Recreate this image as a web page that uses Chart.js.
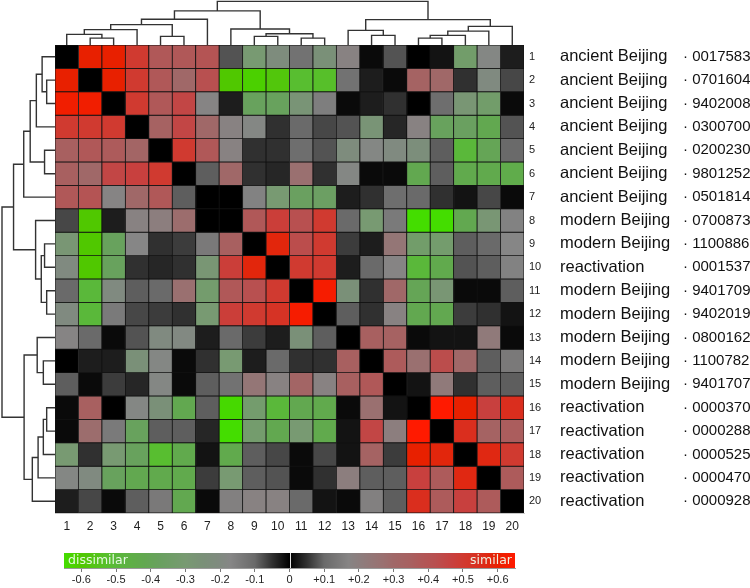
<!DOCTYPE html>
<html><head><meta charset="utf-8">
<script src="https://cdn.jsdelivr.net/npm/chart.js@4.4.1/dist/chart.umd.min.js"></script>
<style>
html,body{margin:0;padding:0;background:#fff;}
#wrap{position:relative;width:750px;height:588px;overflow:hidden;background:#fff;}
canvas{position:absolute;display:block;}
#cHeat{left:0;top:0;}
#cTop{left:55px;top:0;}
#cLeft{left:0;top:45px;}
#cBar{left:0;top:545px;}
</style></head><body>
<div id="wrap">
<canvas id="cHeat" width="750" height="545"></canvas>
<canvas id="cTop" width="469" height="45"></canvas>
<canvas id="cLeft" width="55" height="468"></canvas>
<canvas id="cBar" width="750" height="43"></canvas>
</div>
<script>
// ---------- data ----------
const colLabels = ['1','2','3','4','5','6','7','8','9','10','11','12','13','14','15','16','17','18','19','20'];
const rowNumbers = ['1','2','3','4','5','6','7','8','9','10','11','12','13','14','15','16','17','18','19','20'];
const groupNames = ['ancient Beijing','ancient Beijing','ancient Beijing','ancient Beijing','ancient Beijing','ancient Beijing','ancient Beijing',
  'modern Beijing','modern Beijing','reactivation','modern Beijing','modern Beijing','modern Beijing','modern Beijing','modern Beijing',
  'reactivation','reactivation','reactivation','reactivation','reactivation'];
const sampleIds = ['0017583','0701604','9402008','0300700','0200230','9801252','0501814','0700873','1100886','0001537',
  '9401709','9402019','0800162','1100782','9401707','0000370','0000288','0000525','0000470','0000928'];

const row01 = [0, 0.6, 0.6, 0.5, 0.38, 0.38, 0.4, 0.08, -0.3, -0.22, -0.12, -0.25, 0.18, 0.01, -0.08, 0, 0.02, -0.33, -0.18, 0.03];
const row02 = [0.6, 0, 0.6, 0.5, 0.38, 0.3, 0.42, -0.6, -0.62, -0.58, -0.52, -0.53, -0.12, 0.03, 0.01, 0.33, 0.3, 0.05, -0.2, 0.07];
const row03 = [0.62, 0.62, 0, 0.5, 0.38, 0.45, 0.17, 0.03, -0.38, -0.38, -0.27, -0.15, 0.01, 0.03, 0.05, 0, 0.11, -0.28, -0.33, 0.01];
const row04 = [0.5, 0.5, 0.5, 0, 0.34, 0.45, 0.3, 0.18, -0.18, 0.05, -0.1, 0.07, 0.08, -0.27, 0.04, 0.18, -0.38, -0.37, -0.42, 0.08];
const row05 = [0.35, 0.38, 0.37, 0.32, 0, 0.5, 0.38, 0.18, 0.05, 0.05, -0.11, -0.08, -0.22, -0.18, -0.2, -0.23, -0.09, -0.5, -0.4, -0.1];
const row06 = [0.35, 0.3, 0.45, 0.47, 0.5, 0, 0.09, 0.3, 0.05, 0.04, 0.27, 0.05, -0.18, 0.01, 0.01, -0.42, -0.09, -0.43, -0.43, -0.44];
const row07 = [0.38, 0.4, 0.17, 0.3, 0.38, 0.09, 0, 0, -0.16, -0.3, -0.37, -0.36, 0.03, 0.05, -0.11, 0.1, 0.05, 0.02, 0.07, 0.01];
const row08 = [0.07, -0.6, 0.03, 0.18, 0.2, 0.28, 0, 0, 0.38, 0.48, 0.42, 0.5, -0.1, -0.3, -0.14, -0.65, -0.65, -0.42, -0.28, -0.16];
const row09 = [-0.28, -0.6, -0.38, -0.17, 0.05, 0.06, 0.14, 0.35, 0, 0.58, 0.43, 0.5, 0.06, 0.03, 0.24, -0.33, -0.32, -0.09, -0.1, -0.17];
const row10 = [-0.2, -0.6, -0.38, 0.05, 0.04, 0.05, -0.28, 0.48, 0.58, 0, 0.5, 0.5, 0.03, -0.1, 0.17, -0.5, -0.43, -0.08, -0.09, -0.16];
const row11 = [-0.1, -0.5, -0.2, -0.09, -0.1, 0.27, -0.32, 0.38, 0.42, 0.5, 0, 0.63, -0.25, 0.05, 0.3, -0.4, -0.28, 0.01, 0.01, -0.09];
const row12 = [-0.2, -0.5, -0.14, 0.07, 0.06, 0.05, -0.3, 0.48, 0.5, 0.53, 0.63, 0, -0.09, 0.05, 0.18, -0.42, -0.42, 0.06, 0.05, 0.02];
const row13 = [0.17, 0.1, 0.01, 0.08, -0.2, -0.19, 0.03, -0.1, 0.06, 0.03, -0.25, -0.09, 0, 0.35, 0.34, 0.01, 0.02, 0.02, 0.22, 0.01];
const row14 = [0, 0.03, 0.03, -0.25, -0.18, 0.01, 0.05, -0.3, 0.03, -0.1, 0.05, 0.05, 0.35, 0, 0.37, 0.27, 0.43, 0.3, 0.09, 0.14];
const row15 = [0.09, 0.01, 0.06, 0.04, -0.18, 0.01, -0.09, -0.12, 0.24, 0.18, 0.32, 0.18, 0.35, 0.38, 0, 0.02, 0.22, 0.05, 0.09, 0.09];
const row16 = [0.01, 0.35, 0, -0.18, -0.25, -0.42, -0.09, -0.64, -0.32, -0.5, -0.42, -0.43, 0.01, 0.27, 0.02, 0, 0.65, 0.6, 0.47, 0.55];
const row17 = [0.01, 0.28, -0.14, -0.38, -0.09, -0.09, 0.04, -0.65, -0.32, -0.42, -0.3, -0.43, 0.02, 0.45, 0.2, 0.65, 0, 0.55, 0.33, 0.36];
const row18 = [-0.3, 0.05, -0.3, -0.38, -0.52, -0.43, 0.02, -0.43, -0.09, 0.07, 0.01, 0.07, 0.02, 0.33, 0.06, 0.6, 0.58, 0, 0.57, 0.5];
const row19 = [-0.18, -0.2, -0.38, -0.42, -0.43, -0.43, 0.06, -0.3, -0.09, 0.08, 0.01, 0.05, 0.2, 0.09, 0.09, 0.47, 0.37, 0.57, 0, 0.37];
const row20 = [0.03, 0.07, 0.01, 0.09, 0.14, -0.42, 0.01, 0.16, 0.18, 0.18, 0.1, 0.02, 0.01, 0.16, 0.09, 0.55, 0.37, 0.47, 0.37, 0];
const similarity = [row01,row02,row03,row04,row05,row06,row07,row08,row09,row10,row11,row12,row13,row14,row15,row16,row17,row18,row19,row20];

// dendrogram merges: [childA, childB, height]; leaves 0..19, merged clusters 20+
const treeMerges = [
  [1, 2, 0.157], [0, 20, 0.243], [21, 3, 0.352], [4, 5, 0.197], [22, 23, 0.468], [24, 6, 0.590],
  [8, 9, 0.197], [10, 11, 0.157], [26, 27, 0.259], [7, 28, 0.366], [25, 29, 0.782],
  [13, 14, 0.22], [12, 31, 0.336], [15, 16, 0.157], [33, 17, 0.22], [34, 18, 0.319], [35, 19, 0.428],
  [32, 36, 0.583], [30, 37, 1.0]
];

const colorbarTicks = [-0.6,-0.5,-0.4,-0.3,-0.2,-0.1,0,0.1,0.2,0.3,0.4,0.5,0.6];
const colorbarTickLabels = ['-0.6','-0.5','-0.4','-0.3','-0.2','-0.1','0','+0.1','+0.2','+0.3','+0.4','+0.5','+0.6'];

// ---------- style ----------
const FONT = '"Liberation Sans", Arial, Helvetica, sans-serif';
Chart.defaults.font.family = FONT;
const cmapStops = [
  [-0.65,[68,221,0]],[-0.6,[80,200,0]],[-0.52,[88,190,48]],[-0.5,[90,184,58]],[-0.42,[98,168,80]],
  [-0.37,[106,160,96]],[-0.3,[120,154,114]],[-0.25,[122,144,120]],[-0.2,[128,138,128]],[-0.17,[134,134,134]],
  [-0.1,[106,106,106]],[-0.05,[48,48,48]],[0,[0,0,0]],[0.05,[48,48,48]],[0.1,[106,106,106]],[0.17,[134,132,132]],
  [0.22,[144,122,122]],[0.27,[154,112,112]],[0.3,[160,104,104]],[0.35,[168,96,96]],[0.38,[176,88,88]],
  [0.42,[184,80,80]],[0.47,[200,64,62]],[0.5,[208,58,48]],[0.55,[218,46,30]],[0.6,[232,32,0]],[0.65,[255,26,0]]
];
function colorFor(v){
  if (v <= cmapStops[0][0]) return 'rgb('+cmapStops[0][1].join(',')+')';
  for (let i=1;i<cmapStops.length;i++){
    const [v1,c1] = cmapStops[i];
    if (v <= v1){
      const [v0,c0] = cmapStops[i-1];
      const t = (v - v0)/(v1 - v0);
      return 'rgb('+c0.map((c,k)=>Math.round(c + (c1[k]-c)*t)).join(',')+')';
    }
  }
  return 'rgb('+cmapStops[cmapStops.length-1][1].join(',')+')';
}

const common = {responsive:false, animation:false, events:[], plugins:{legend:{display:false}, tooltip:{enabled:false}}};

// ---------- heatmap ----------
const heatDatasets = similarity.map((row, r) => ({
  data: row.map(() => [r + 0.5, r + 1.5]),
  backgroundColor: row.map(colorFor),
  borderColor: '#121212',
  borderWidth: 0.8,
  borderSkipped: false,
  categoryPercentage: 1, barPercentage: 1, grouped: false,
  xAxisID: 'x', yAxisID: 'y'
}));
const rightAxis = (labels, weight, size, width, pad, color) => ({
  type:'category', labels: labels, position:'right', weight: weight, offset:true,
  grid:{display:false, drawTicks:false}, border:{display:false},
  ticks:{font:{size:size, family:FONT}, color:color, padding:pad, autoSkip:false},
  afterFit(s){ s.width = width; }
});
new Chart(document.getElementById('cHeat'), {
  type:'bar',
  data:{labels: colLabels, datasets: heatDatasets},
  options:Object.assign({}, common, {
    layout:{padding:{left:55, top:45, right:0, bottom:0}},
    scales:{
      x:{type:'category', position:'bottom', offset:true, grid:{display:false, drawTicks:false},
         border:{display:true, color:'#c8c8c8'},
         ticks:{font:{size:12}, color:'#222', padding:6, maxRotation:0, autoSkip:false},
         afterFit(s){ s.height = 32; }},
      y:{type:'linear', display:false, min:0.5, max:20.5, reverse:true},
      yNum: rightAxis(rowNumbers, 0, 11, 31, 5, '#222'),
      yName: rightAxis(groupNames, 1, 16.5, 125, 5, '#111'),
      yId: rightAxis(sampleIds.map(s => '\u00b7 ' + s), 2, 15, 70, 3, '#111')
    }
  })
});

// ---------- dendrograms ----------
function dendroSegments(merges, n){
  const pos = [], ht = [];
  for (let i=0;i<n;i++){ pos[i] = i + 1; ht[i] = 0; }
  const segs = [];
  merges.forEach(([a,b,h], k) => {
    segs.push([[pos[a],ht[a]],[pos[a],h],[pos[b],h],[pos[b],ht[b]]]);
    pos[n+k] = (pos[a]+pos[b])/2; ht[n+k] = h;
  });
  return segs;
}
const segs = dendroSegments(treeMerges, 20);
const lineStyle = {showLine:true, pointRadius:0, borderColor:'#333', borderWidth:1.4, tension:0, clip:false, fill:false};
new Chart(document.getElementById('cTop'), {
  type:'scatter',
  data:{datasets: segs.map(s => Object.assign({data: s.map(([p,h]) => ({x:p, y:h}))}, lineStyle))},
  options:Object.assign({}, common, {
    layout:{padding:0},
    scales:{x:{type:'linear', display:false, min:0.5, max:20.5}, y:{type:'linear', display:false, min:0, max:45/43.6}}
  })
});
new Chart(document.getElementById('cLeft'), {
  type:'scatter',
  data:{datasets: segs.map(s => Object.assign({data: s.map(([p,h]) => ({x:h, y:p}))}, lineStyle))},
  options:Object.assign({}, common, {
    layout:{padding:0},
    scales:{x:{type:'linear', display:false, min:0, max:55/53, reverse:true}, y:{type:'linear', display:false, min:0.5, max:20.5, reverse:true}}
  })
});

// ---------- colour bar ----------
const barText = {
  id:'barText',
  afterDatasetsDraw(chart){
    const {ctx, chartArea:a, scales:{x}} = chart;
    ctx.save();
    const x0 = Math.round(x.getPixelForValue(0)) + 0.5;
    ctx.strokeStyle = 'rgba(255,255,255,0.9)'; ctx.lineWidth = 1;
    ctx.beginPath(); ctx.moveTo(x0, a.top); ctx.lineTo(x0, a.bottom); ctx.stroke();
    ctx.font = '12.5px "DejaVu Sans", sans-serif';
    ctx.fillStyle = 'rgba(240,255,240,0.92)';
    ctx.textBaseline = 'middle';
    const ym = (a.top + a.bottom)/2;
    ctx.textAlign = 'left'; ctx.fillText('dissimilar', x.getPixelForValue(-0.65) + 4, ym);
    ctx.textAlign = 'right'; ctx.fillText('similar', x.getPixelForValue(0.65) - 3, ym);
    ctx.restore();
  }
};
new Chart(document.getElementById('cBar'), {
  type:'bar',
  data:{labels:['scale'], datasets:[{
    data:[[-0.65, 0.65]],
    backgroundColor(c){
      const {chart} = c; const {ctx, chartArea, scales} = chart;
      if (!chartArea) return '#000';
      const xa = scales.x.getPixelForValue(-0.65), xb = scales.x.getPixelForValue(0.65);
      const g = ctx.createLinearGradient(xa, 0, xb, 0);
      cmapStops.forEach(([v,c]) => g.addColorStop((v + 0.65)/1.3, 'rgb('+c.join(',')+')'));
      return g;
    },
    borderWidth:0, categoryPercentage:1, barPercentage:1
  }]},
  options:Object.assign({}, common, {
    indexAxis:'y',
    layout:{padding:{left:64, right:235, top:8, bottom:0}},
    scales:{
      x:{type:'linear', min:-0.65, max:0.65,
         afterBuildTicks(s){ s.ticks = colorbarTicks.map(v => ({value:v})); },
         ticks:{callback:(v,i) => colorbarTickLabels[i], font:{size:11}, color:'#222', padding:1, autoSkip:false, maxRotation:0},
         grid:{drawOnChartArea:false, tickLength:4, color:'#777'},
         border:{display:true, color:'#999'},
         afterFit(s){ s.height = 20; }},
      y:{display:false}
    }
  }),
  plugins:[barText]
});
</script>
</body></html>
